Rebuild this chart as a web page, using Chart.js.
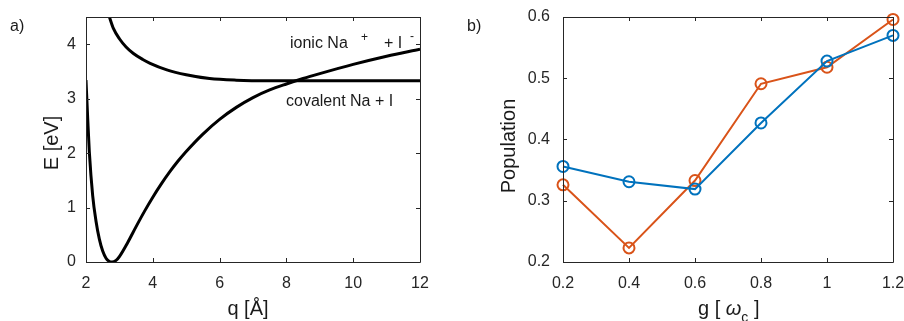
<!DOCTYPE html>
<html>
<head>
<meta charset="utf-8">
<script src="https://cdn.jsdelivr.net/npm/chart.js@4.4.1/dist/chart.umd.min.js"></script>
<style>
  body { margin: 0; background: #fff; }
  #wrap { position: relative; width: 904px; height: 321px; overflow: hidden; }
  canvas { position: absolute; top: 0; }
</style>
</head>
<body>
<div id="wrap">
  <canvas id="energyChart" width="452" height="321" style="left:0px"></canvas>
  <canvas id="popChart" width="452" height="321" style="left:452px"></canvas>
</div>
<script>
// panel a) potential curves
const covalentQ = [2.0, 2.05, 2.1, 2.2, 2.3, 2.4, 2.5, 2.6, 2.7, 2.78, 2.9, 3.0, 3.25, 3.5, 3.75, 4.0, 4.25, 4.5, 4.75, 5.0, 5.5, 6.0, 6.5, 7.0, 7.5, 8.0, 8.5, 9.0, 10.0, 11.0, 12.0];
const covalentE = [3.34, 2.65, 2.02, 1.22, 0.75, 0.42, 0.2, 0.07, 0.01, 0.0, 0.03, 0.1, 0.36, 0.65, 0.93, 1.19, 1.43, 1.65, 1.85, 2.03, 2.35, 2.62, 2.84, 3.02, 3.16, 3.27, 3.37, 3.46, 3.63, 3.78, 3.91];
const ionicQ = [2.7, 2.82, 3.0, 3.2, 3.42, 3.7, 3.92, 4.42, 5.0, 5.7, 6.5, 7.5, 8.5, 10.0, 12.0];
const ionicE = [4.5, 4.29, 4.1, 3.95, 3.83, 3.72, 3.65, 3.53, 3.44, 3.37, 3.34, 3.33, 3.33, 3.33, 3.33];
const qTicks = [2, 4, 6, 8, 10, 12];
const eTicks = [0, 1, 2, 3, 4];

// panel b) population vs coupling
const gValues = [0.2, 0.4, 0.6, 0.8, 1.0, 1.2];
const gTickLabels = ["0.2", "0.4", "0.6", "0.8", "1", "1.2"];
const popBlue = [0.356, 0.331, 0.319, 0.427, 0.528, 0.570];
const popOrange = [0.326, 0.223, 0.333, 0.491, 0.518, 0.596];
const popTicks = [0.2, 0.3, 0.4, 0.5, 0.6];
const popTickLabels = ["0.2", "0.3", "0.4", "0.5", "0.6"];

const FONT = "'Liberation Sans', Arial, sans-serif";
const AXIS = "#262626";

function toPoints(xs, ys) {
  return xs.map(function(x, i) { return { x: x, y: ys[i] }; });
}

// box round the plot with inward ticks on all four sides
function drawFrame(chart) {
  const ctx = chart.ctx;
  const a = chart.chartArea;
  const xs = chart.scales.x, ys = chart.scales.y;
  ctx.save();
  ctx.strokeStyle = AXIS;
  ctx.lineWidth = 1;
  ctx.beginPath();
  ctx.rect(Math.round(a.left) + 0.5, Math.round(a.top) + 0.5, Math.round(a.right - a.left), Math.round(a.bottom - a.top));
  xs.ticks.forEach(function(t) {
    const px = Math.round(xs.getPixelForValue(t.value)) + 0.5;
    ctx.moveTo(px, a.bottom); ctx.lineTo(px, a.bottom - 4);
    ctx.moveTo(px, a.top); ctx.lineTo(px, a.top + 4);
  });
  ys.ticks.forEach(function(t) {
    const py = Math.round(ys.getPixelForValue(t.value)) + 0.5;
    ctx.moveTo(a.left, py); ctx.lineTo(a.left + 4, py);
    ctx.moveTo(a.right, py); ctx.lineTo(a.right - 4, py);
  });
  ctx.stroke();
  ctx.restore();
}

function fixedTicks(values) {
  return function(scale) {
    scale.ticks = values.map(function(v) { return { value: v }; });
  };
}

function fitX(s) {
  s.height = 59;
  s.paddingLeft = 0;
  s.paddingRight = 0;
}

function fitY(width) {
  return function(s) {
    s.width = width;
    s.paddingTop = 0;
    s.paddingBottom = 0;
  };
}

const energyPlugin = {
  id: "energyDecor",
  afterDraw: function(chart) {
    drawFrame(chart);
    const ctx = chart.ctx;
    ctx.save();
    ctx.fillStyle = "#1a1a1a";
    ctx.textBaseline = "alphabetic";
    ctx.textAlign = "left";
    ctx.font = "16px " + FONT;
    ctx.fillText("a)", 10, 31);
    // curve labels
    ctx.fillText("ionic Na", 290, 48);
    ctx.fillText("+ I", 384, 48);
    ctx.fillText("covalent Na + I", 286, 106);
    ctx.font = "12px " + FONT;
    ctx.fillText("+", 361, 41);
    ctx.fillText("-", 410, 40);
    // axis titles
    ctx.font = "20px " + FONT;
    ctx.textAlign = "center";
    ctx.fillText("q [Å]", 248, 315);
    ctx.translate(58, 143);
    ctx.rotate(-Math.PI / 2);
    ctx.fillText("E [eV]", 0, 0);
    ctx.restore();
  }
};

const popPlugin = {
  id: "popDecor",
  afterDraw: function(chart) {
    drawFrame(chart);
    const ctx = chart.ctx;
    ctx.save();
    ctx.fillStyle = "#1a1a1a";
    ctx.textBaseline = "alphabetic";
    ctx.textAlign = "left";
    ctx.font = "16px " + FONT;
    ctx.fillText("b)", 15, 31);
    // x title: g [ omega_c ]
    ctx.font = "20px " + FONT;
    let x = 246;
    ctx.fillText("g [ ", x, 315);
    x += ctx.measureText("g [ ").width;
    ctx.font = "italic 20px " + FONT;
    ctx.fillText("ω", x, 315);
    x += ctx.measureText("ω").width;
    ctx.font = "14px " + FONT;
    ctx.fillText("c", x, 322);
    x += ctx.measureText("c").width;
    ctx.font = "20px " + FONT;
    ctx.fillText(" ]", x, 315);
    // y title
    ctx.textAlign = "center";
    ctx.translate(63, 146);
    ctx.rotate(-Math.PI / 2);
    ctx.fillText("Population", 0, 0);
    ctx.restore();
  }
};

function createEnergyChart() {
  const ctx = document.getElementById("energyChart");
  new Chart(ctx, {
    type: "line",
    data: {
      datasets: [
        {
          label: "covalent Na + I",
          data: toPoints(covalentQ, covalentE),
          borderColor: "#000",
          borderWidth: 3,
          pointRadius: 0,
          cubicInterpolationMode: "monotone"
        },
        {
          label: "ionic Na+ + I-",
          data: toPoints(ionicQ, ionicE),
          borderColor: "#000",
          borderWidth: 3,
          pointRadius: 0,
          cubicInterpolationMode: "monotone"
        }
      ]
    },
    options: {
      responsive: false,
      animation: false,
      layout: { autoPadding: false, padding: { top: 17, right: 32, left: 0, bottom: 0 } },
      plugins: { legend: { display: false }, tooltip: { enabled: false } },
      scales: {
        x: {
          type: "linear",
          min: 2,
          max: 12,
          afterBuildTicks: fixedTicks(qTicks),
          afterFit: fitX,
          grid: { display: false, drawTicks: false },
          border: { display: false },
          ticks: { color: AXIS, padding: 12, font: { family: FONT, size: 16 }, maxRotation: 0 }
        },
        y: {
          min: 0,
          max: 4.5,
          afterBuildTicks: fixedTicks(eTicks),
          afterFit: fitY(86),
          grid: { display: false, drawTicks: false },
          border: { display: false },
          ticks: { color: AXIS, padding: 10, font: { family: FONT, size: 16 } }
        }
      }
    },
    plugins: [energyPlugin]
  });
}

function createPopChart() {
  const ctx = document.getElementById("popChart");
  new Chart(ctx, {
    type: "line",
    data: {
      datasets: [
        {
          label: "blue",
          data: toPoints(gValues, popBlue),
          borderColor: "#0072BD",
          borderWidth: 2,
          pointStyle: "circle",
          pointRadius: 5.5,
          pointBorderWidth: 2,
          pointBackgroundColor: "rgba(0,0,0,0)",
          pointBorderColor: "#0072BD",
          tension: 0,
          clip: false
        },
        {
          label: "orange",
          data: toPoints(gValues, popOrange),
          borderColor: "#D95319",
          borderWidth: 2,
          pointStyle: "circle",
          pointRadius: 5.5,
          pointBorderWidth: 2,
          pointBackgroundColor: "rgba(0,0,0,0)",
          pointBorderColor: "#D95319",
          tension: 0,
          clip: false
        }
      ]
    },
    options: {
      responsive: false,
      animation: false,
      layout: { autoPadding: false, padding: { top: 17, right: 11, left: 0, bottom: 0 } },
      plugins: { legend: { display: false }, tooltip: { enabled: false } },
      scales: {
        x: {
          type: "linear",
          min: 0.2,
          max: 1.2,
          afterBuildTicks: fixedTicks(gValues),
          afterFit: fitX,
          grid: { display: false, drawTicks: false },
          border: { display: false },
          ticks: {
            color: AXIS, padding: 12, maxRotation: 0, font: { family: FONT, size: 16 },
            callback: function(v, i) { return gTickLabels[i]; }
          }
        },
        y: {
          min: 0.2,
          max: 0.6,
          afterBuildTicks: fixedTicks(popTicks),
          afterFit: fitY(111),
          grid: { display: false, drawTicks: false },
          border: { display: false },
          ticks: {
            color: AXIS, padding: 13, font: { family: FONT, size: 16 },
            callback: function(v, i) { return popTickLabels[i]; }
          }
        }
      }
    },
    plugins: [popPlugin]
  });
}

window.addEventListener("DOMContentLoaded", function() {
  createEnergyChart();
  createPopChart();
});
</script>
</body>
</html>
